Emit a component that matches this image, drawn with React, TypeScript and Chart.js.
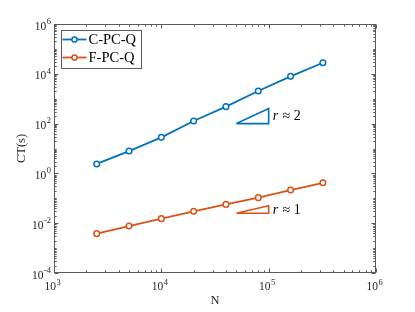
import { useEffect, useRef } from 'react';
import { Chart, registerables } from 'chart.js';

Chart.register(...registerables);

// ---- data ----
const nValues = [2500, 5000, 10000, 20000, 40000, 80000, 160000, 320000];
const cpcqTimes = [2.4, 7.9, 28, 127, 480, 2040, 7900, 27900];
const fpcqTimes = [0.0038, 0.0077, 0.0152, 0.03, 0.057, 0.106, 0.215, 0.42];
const seriesLabels = ['C-PC-Q', 'F-PC-Q'];
const xTickExponents = [3, 4, 5, 6];
const yTickExponents = [-4, -2, 0, 2, 4, 6];
const slope2TriX = [50000, 100000, 100000, 50000];
const slope2TriY = [100, 100, 400, 100];
const slope1TriX = [50000, 100000, 100000, 50000];
const slope1TriY = [0.025, 0.025, 0.05, 0.025];
const rateValues = ['2', '1'];
const xTitle = 'N';
const yTitle = 'CT(s)';

// ---- styles ----
const BLUE = '#0072BD';
const ORANGE = '#D95319';
const AXIS = '#262626';
const FRAME = '#5a5a5a';
const SERIF = "'Liberation Serif', 'DejaVu Serif', serif";
const BASE_FONT = `11.5px ${SERIF}`;
const EXP_FONT = `8.5px ${SERIF}`;

const expOf = (v: number) => String(Math.round(Math.log10(v)));
const pts = (xs: number[], ys: number[]) => xs.map((x, i) => ({ x, y: ys[i] }));

const framePlugin = {
  id: 'matlabFrame',
  afterDatasetsDraw(chart: any) {
    const { ctx, chartArea: a, scales } = chart;
    const xs = scales.x;
    const ys = scales.y;
    ctx.save();
    // box
    ctx.strokeStyle = FRAME;
    ctx.lineWidth = 1;
    const L = Math.round(a.left) + 0.5;
    const R = Math.round(a.right) - 0.5;
    const T = Math.round(a.top) + 0.5;
    const B = Math.round(a.bottom) - 0.5;
    ctx.strokeRect(L, T, R - L, B - T);
    // x ticks
    ctx.beginPath();
    for (let e = xTickExponents[0]; e <= xTickExponents[xTickExponents.length - 1]; e++) {
      for (let k = 1; k <= 9; k++) {
        const v = k * Math.pow(10, e);
        if (v > xs.max * 1.0001) break;
        const px = Math.round(xs.getPixelForValue(v)) + 0.5;
        const len = k === 1 ? 4 : 2.2;
        ctx.moveTo(px, B); ctx.lineTo(px, B - len);
        ctx.moveTo(px, T); ctx.lineTo(px, T + len);
      }
    }
    // y ticks
    for (let e = yTickExponents[0]; e <= yTickExponents[yTickExponents.length - 1]; e++) {
      for (let k = 1; k <= 9; k++) {
        const v = k * Math.pow(10, e);
        if (v > ys.max * 1.0001) break;
        const py = Math.round(ys.getPixelForValue(v)) + 0.5;
        const len = k === 1 && yTickExponents.includes(e) ? 4 : 2.2;
        ctx.moveTo(L, py); ctx.lineTo(L + len, py);
        ctx.moveTo(R, py); ctx.lineTo(R - len, py);
      }
    }
    ctx.stroke();

    // tick labels 10^e from the scales' ticks
    ctx.fillStyle = AXIS;
    ctx.textBaseline = 'middle';
    ctx.textAlign = 'left';
    ys.ticks.forEach((t: any) => {
      const py = ys.getPixelForValue(t.value);
      const ex = expOf(t.value);
      ctx.font = EXP_FONT;
      const we = ctx.measureText(ex).width;
      ctx.font = BASE_FONT;
      const wb = ctx.measureText('10').width;
      const right = a.left - 3;
      ctx.fillText('10', right - we - 0.5 - wb, py + 2.5);
      ctx.font = EXP_FONT;
      ctx.fillText(ex, right - we, py - 2.5);
    });
    xs.ticks.forEach((t: any) => {
      const px = xs.getPixelForValue(t.value);
      const ex = expOf(t.value);
      ctx.font = EXP_FONT;
      const we = ctx.measureText(ex).width;
      ctx.font = BASE_FONT;
      const wb = ctx.measureText('10').width;
      const start = px - 1.5 - (wb + 0.5 + we) / 2;
      ctx.fillText('10', start, a.bottom + 14);
      ctx.font = EXP_FONT;
      ctx.fillText(ex, start + wb + 0.5, a.bottom + 9.5);
    });

    // rate annotations
    const tris = [
      { xs: slope2TriX, ys: slope2TriY, txt: rateValues[0] },
      { xs: slope1TriX, ys: slope1TriY, txt: rateValues[1] },
    ];
    ctx.fillStyle = '#000';
    tris.forEach((t) => {
      const xr = Math.max(...t.xs);
      const yLo = Math.min(...t.ys);
      const yHi = Math.max(...t.ys);
      const px = xs.getPixelForValue(xr) + 4;
      const py = ys.getPixelForValue(Math.sqrt(yLo * yHi)) + 0.5;
      ctx.font = `italic 14px ${SERIF}`;
      ctx.fillText('r', px, py);
      const w = ctx.measureText('r').width;
      ctx.font = `14px ${SERIF}`;
      ctx.fillText(' \u2248 ' + t.txt, px + w + 1, py);
    });

    // legend
    const lx = a.left + 7;
    const ly = a.top + 5.5;
    const lw = 80;
    const lh = 38;
    ctx.fillStyle = '#fff';
    ctx.fillRect(lx, ly, lw, lh);
    ctx.strokeStyle = FRAME;
    ctx.lineWidth = 1;
    ctx.strokeRect(Math.round(lx) + 0.5, Math.round(ly) + 0.5, lw, lh);
    const colors = [BLUE, ORANGE];
    seriesLabels.forEach((lab, i) => {
      const cy = ly + 10 + i * 18;
      ctx.strokeStyle = colors[i];
      ctx.lineWidth = 1.8;
      ctx.beginPath();
      ctx.moveTo(lx + 1.5, cy);
      ctx.lineTo(lx + 25.5, cy);
      ctx.stroke();
      ctx.beginPath();
      ctx.arc(lx + 13.5, cy, 2.6, 0, Math.PI * 2);
      ctx.fillStyle = '#fff';
      ctx.fill();
      ctx.lineWidth = 1.5;
      ctx.stroke();
      ctx.fillStyle = '#000';
      ctx.font = `14.5px ${SERIF}`;
      ctx.textBaseline = 'middle';
      ctx.fillText(lab, lx + 27.5, cy + 0.5);
    });
    ctx.restore();
  },
};

export default function App() {
  const ref = useRef<HTMLCanvasElement>(null);
  useEffect(() => {
    if (!ref.current) return;
    const seriesStyle = (color: string) => ({
      borderColor: color,
      backgroundColor: '#ffffff',
      borderWidth: 1.8,
      pointRadius: 2.8,
      pointBorderWidth: 1.5,
      pointBackgroundColor: '#ffffff',
      pointBorderColor: color,
      tension: 0,
      fill: false,
    });
    const triStyle = (color: string) => ({
      borderColor: color,
      backgroundColor: 'transparent',
      borderWidth: 1.6,
      pointRadius: 0,
      tension: 0,
      fill: false,
    });
    const chart = new Chart(ref.current, {
      type: 'line',
      data: {
        datasets: [
          { label: seriesLabels[0], data: pts(nValues, cpcqTimes), ...seriesStyle(BLUE) },
          { label: seriesLabels[1], data: pts(nValues, fpcqTimes), ...seriesStyle(ORANGE) },
          { label: 'slope 2', data: pts(slope2TriX, slope2TriY), ...triStyle(BLUE) },
          { label: 'slope 1', data: pts(slope1TriX, slope1TriY), ...triStyle(ORANGE) },
        ],
      },
      options: {
        responsive: true,
        maintainAspectRatio: false,
        animation: false,
        events: [],
        layout: { padding: { top: 24, right: 39, left: 0, bottom: 0 } },
        plugins: { legend: { display: false }, tooltip: { enabled: false } },
        scales: {
          x: {
            type: 'logarithmic',
            position: 'bottom',
            min: 1e3,
            max: 1e6,
            grid: { display: false },
            border: { display: false },
            afterBuildTicks: (s: any) => {
              s.ticks = xTickExponents.map((e) => ({ value: Math.pow(10, e) }));
            },
            afterFit: (s: any) => {
              s.height = 39;
            },
            ticks: { display: false, autoSkip: false, maxRotation: 0 },
            title: {
              display: true,
              text: xTitle,
              color: AXIS,
              font: { family: SERIF, size: 12.5 },
              padding: { top: 0, bottom: 3.5 },
            },
          },
          y: {
            type: 'logarithmic',
            position: 'left',
            min: 1e-4,
            max: 1e6,
            grid: { display: false },
            border: { display: false },
            afterBuildTicks: (s: any) => {
              s.ticks = yTickExponents.map((e) => ({ value: Math.pow(10, e) }));
            },
            afterFit: (s: any) => {
              s.width = 54;
            },
            ticks: { display: false, autoSkip: false },
            title: {
              display: true,
              text: yTitle,
              color: AXIS,
              font: { family: SERIF, size: 12.5 },
              padding: { top: 14.5, bottom: 0 },
            },
          },
        },
      } as any,
      plugins: [framePlugin],
    });
    return () => chart.destroy();
  }, []);
  return (
    <div style={{ position: 'absolute', left: 0, top: 0, width: 415, height: 312, background: '#fff' }}>
      <canvas ref={ref} />
    </div>
  );
}
